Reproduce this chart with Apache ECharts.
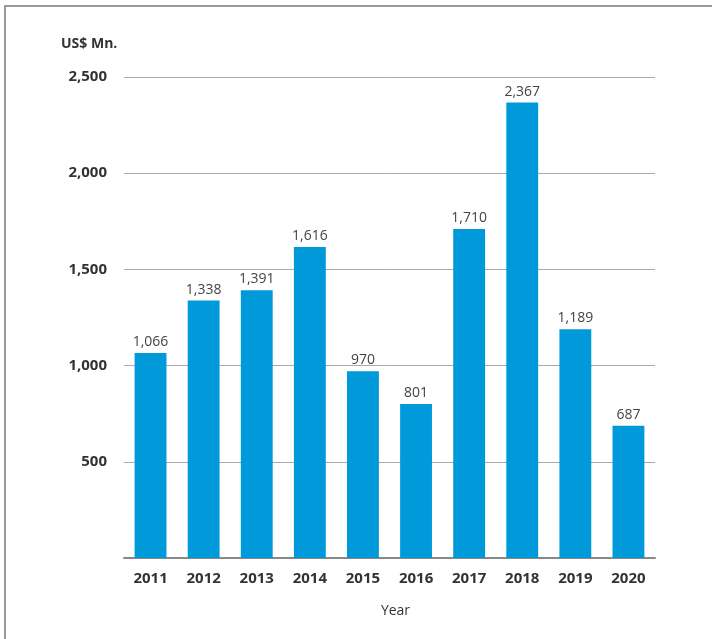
<!DOCTYPE html>
<html>
<head>
<meta charset="utf-8">
<script src="https://cdn.jsdelivr.net/npm/echarts@6/dist/echarts.min.js"></script>
<style>
html,body{margin:0;padding:0;background:#fff;}
#frame{position:absolute;left:4px;top:5px;width:708px;height:634px;border-left:2px solid #999;border-top:2px solid #999;box-sizing:border-box;}
#chart{position:absolute;left:0;top:0;width:712px;height:639px;}
</style>
</head>
<body>
<div id="frame"></div>
<div id="chart"></div>
<script>
const years = ['2011','2012','2013','2014','2015','2016','2017','2018','2019','2020'];
const values = [1066,1338,1391,1616,970,801,1710,2367,1189,687];
const yTicks = [0,500,1000,1500,2000,2500];
const fontFam = '"Open Sans", "Noto Sans", sans-serif';

const chart = echarts.init(document.getElementById('chart'), null, {renderer:'canvas'});
chart.setOption({
  animation:false,
  backgroundColor:'transparent',
  title:{
    text:'US$ Mn.', left:56, top:32,
    textStyle:{fontFamily:fontFam, fontSize:14, fontWeight:'bold', color:'#333'}
  },
  grid:{left:124, right:57, top:77, bottom:81, containLabel:false},
  xAxis:{
    type:'category', data:years,
    name:'Year', nameLocation:'middle', nameGap:46,
    nameTextStyle:{fontFamily:fontFam, fontSize:14, color:'#333', padding:[0,0,0,12]},
    axisLine:{lineStyle:{color:'#888', width:2}},
    axisTick:{show:false},
    axisLabel:{fontFamily:fontFam, fontSize:15, fontWeight:'bold', color:'#333', margin:13}
  },
  yAxis:{
    type:'value', min:yTicks[0], max:yTicks[yTicks.length-1], interval:500,
    axisLine:{show:false}, axisTick:{show:false},
    splitLine:{lineStyle:{color:'#aaa', width:1}},
    axisLabel:{
      fontFamily:fontFam, fontSize:15, fontWeight:'bold', color:'#333', margin:17,
      formatter:v => v===0 ? '' : v.toLocaleString('en-US')
    }
  },
  series:[{
    type:'bar', data:values, barWidth:'60%',
    itemStyle:{color:'#0099DA'},
    label:{
      show:true, position:'top', distance:4,
      fontFamily:fontFam, fontSize:14, color:'#444',
      formatter:p => p.value.toLocaleString('en-US')
    }
  }]
});
</script>
</body>
</html>
